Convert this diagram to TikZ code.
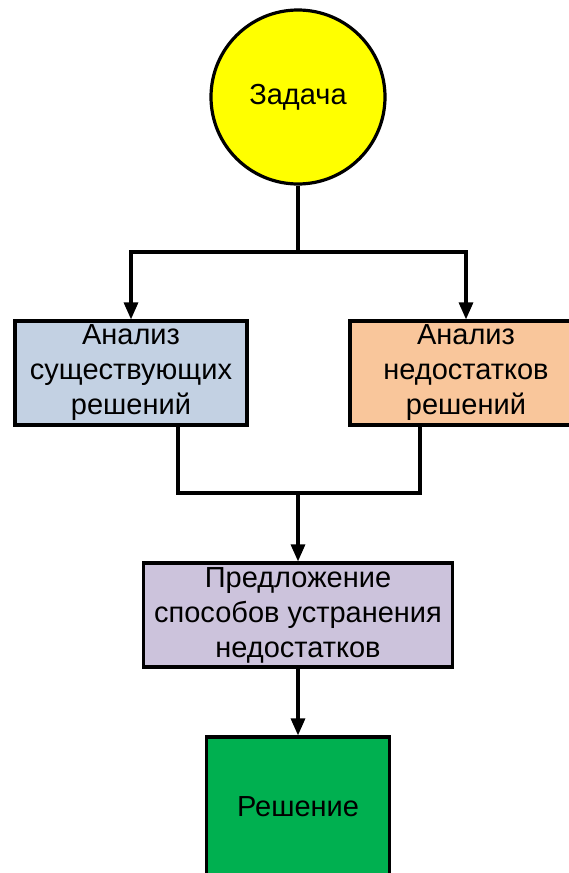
\documentclass[tikz,border=0pt]{standalone}
\usepackage{fontspec}
\setmainfont{Liberation Sans}
\usetikzlibrary{positioning,arrows.meta,calc}

\definecolor{taskyellow}{HTML}{FFFF00}
\definecolor{existblue}{HTML}{C3D1E3}
\definecolor{flaworange}{HTML}{F9C69B}
\definecolor{proposelilac}{HTML}{CCC3DC}
\definecolor{resultgreen}{HTML}{00B050}

\begin{document}
\begin{tikzpicture}[x=1pt,y=-1pt,
  every node/.style={font=\fontsize{29}{35}\selectfont, align=center},
  block/.style={draw, line width=3.2pt, inner sep=0pt, minimum height=104pt},
  line/.style={line width=3.2pt},
  arrow/.style={line width=3.2pt, -{Triangle[width=14pt,length=17pt]}}]

  \useasboundingbox (0,0) rectangle (568,873);

  \node[draw, line width=3.2pt, circle, fill=taskyellow, minimum size=174pt, inner sep=0pt] (task) at (298,97) {Задача};
  \node[block, fill=existblue, minimum width=232pt] (exist) at (131,373) {Анализ\\существующих\\решений};
  \node[block, fill=flaworange, minimum width=232pt] (flaws) at (466,373) {Анализ\\недостатков\\решений};
  \node[block, fill=proposelilac, minimum width=309pt] (propose) at (298,615) {Предложение\\способов устранения\\недостатков};
  \node[block, fill=resultgreen, minimum width=183pt, minimum height=140pt] (result) at (298,807) {Решение};

  \coordinate (fork) at (298,252);
  \coordinate (join) at (298,493);

  \draw[line] (task.south) -- (fork);
  \draw[arrow] (fork) -| (exist.north);
  \draw[arrow] (fork) -| (flaws.north);
  \draw[line] ([xshift=47pt]exist.south) |- (join);
  \draw[line] ([xshift=-46pt]flaws.south) |- (join);
  \draw[arrow] (join) -- (propose.north);
  \draw[arrow] (propose.south) -- (result.north);

\end{tikzpicture}
\end{document}
